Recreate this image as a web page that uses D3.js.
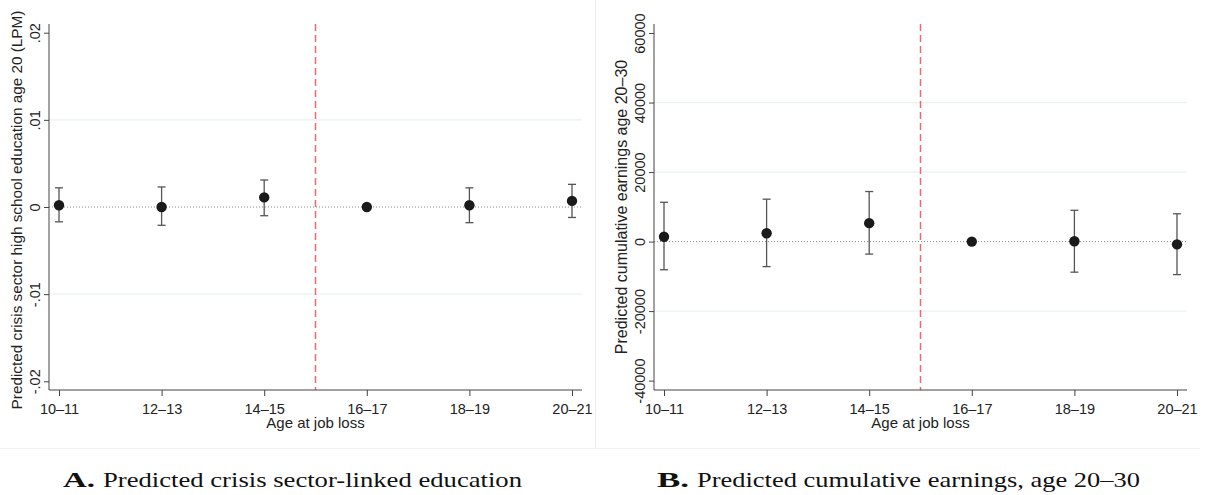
<!DOCTYPE html>
<html>
<head>
<meta charset="utf-8">
<script src="https://cdn.jsdelivr.net/npm/d3@7"></script>
<style>
  html, body { margin: 0; padding: 0; background: #fff; }
  svg { display: block; }
  .lbl { font-family: "Liberation Sans", Arial, sans-serif; fill: #222; }
  .cap { font-family: "Liberation Serif", "Times New Roman", serif; fill: #111; }
</style>
</head>
<body>
<svg id="chart" width="1207" height="495"></svg>
<script>
// ---------- data ----------
const categories = ["10–11", "12–13", "14–15", "16–17", "18–19", "20–21"];

const eduEst = [0.0002, 0.0000, 0.0011, 0.0000, 0.0002, 0.0007];
const eduLo  = [-0.0017, -0.0021, -0.0010, null, -0.0018, -0.0012];
const eduHi  = [0.0022, 0.0023, 0.0031, null, 0.0022, 0.0026];
const eduTicks = [-0.02, -0.01, 0, 0.01, 0.02];
const eduTickLabels = ["-.02", "-.01", "0", ".01", ".02"];
const eduGrid = [-0.01, 0.01];

const earnEst = [1400, 2400, 5300, 0, 100, -800];
const earnLo  = [-8100, -7200, -3600, null, -8800, -9500];
const earnHi  = [11300, 12200, 14400, null, 9000, 8000];
const earnTicks = [-40000, -20000, 0, 20000, 40000, 60000];
const earnTickLabels = ["-40000", "-20000", "0", "20000", "40000", "60000"];
const earnGrid = [-20000, 20000, 40000];

const xTitle = "Age at job loss";
const cutoffBetween = ["14–15", "16–17"];

const panels = [
  {
    est: eduEst, lo: eduLo, hi: eduHi,
    ticks: eduTicks, tickLabels: eduTickLabels, grid: eduGrid,
    domain: [-0.021, 0.021],
    yTitle: "Predicted crisis sector high school education age 20 (LPM)",
    yTitleSize: 15.3, yTitleCY: 210,
    capLetter: "A.", capText: "Predicted crisis sector-linked education",
    x0: 49, x1: 582, yTitleX: 22, capX: 63, capTextX: 103, capTextW: 419
  },
  {
    est: earnEst, lo: earnLo, hi: earnHi,
    ticks: earnTicks, tickLabels: earnTickLabels, grid: earnGrid,
    domain: [-42700, 62600],
    yTitle: "Predicted cumulative earnings age 20–30",
    yTitleSize: 16, yTitleCY: 207,
    capLetter: "B.", capText: "Predicted cumulative earnings, age 20–30",
    x0: 654, x1: 1187, yTitleX: 627, capX: 657, capTextX: 697, capTextW: 443
  }
];

const svg = d3.select("#chart");
const yTop = 24, yBot = 390;

// faint panel frames
svg.append("line").attr("x1", 595.5).attr("x2", 595.5).attr("y1", 0).attr("y2", 448)
  .attr("stroke", "#ececec").attr("stroke-width", 1);
svg.append("line").attr("x1", 0).attr("x2", 1200).attr("y1", 448.5).attr("y2", 448.5)
  .attr("stroke", "#f0f0f0").attr("stroke-width", 1);

panels.forEach(p => {
  const g = svg.append("g");
  const x = d3.scalePoint().domain(categories).range([p.x0, p.x1]).padding(0.0975);
  const y = d3.scaleLinear().domain(p.domain).range([yBot, yTop]);

  // gridlines
  g.selectAll(".grid").data(p.grid).join("line")
    .attr("x1", p.x0).attr("x2", p.x1)
    .attr("y1", d => y(d)).attr("y2", d => y(d))
    .attr("stroke", "#eaf1f2").attr("stroke-width", 1.2);

  // zero dotted line
  g.append("line")
    .attr("x1", p.x0).attr("x2", p.x1)
    .attr("y1", y(0)).attr("y2", y(0))
    .attr("stroke", "#8a8a8a").attr("stroke-width", 1)
    .attr("stroke-dasharray", "1,2");

  // cutoff red dashed line
  const xc = (x(cutoffBetween[0]) + x(cutoffBetween[1])) / 2;
  g.append("line")
    .attr("x1", xc).attr("x2", xc).attr("y1", yTop).attr("y2", yBot)
    .attr("stroke", "#f2676b").attr("stroke-width", 1.5)
    .attr("stroke-dasharray", "7,4");

  // y axis
  const yAxis = d3.axisLeft(y).tickValues(p.ticks)
    .tickFormat((d, i) => p.tickLabels[i]).tickSize(5).tickSizeOuter(0);
  const ya = g.append("g").attr("transform", `translate(${p.x0},0)`).call(yAxis);
  ya.select(".domain").attr("stroke", "#444").attr("d", `M0,${yTop}V${yBot}`);
  ya.selectAll(".tick line").attr("stroke", "#444");
  ya.selectAll(".tick text")
    .attr("class", "lbl")
    .attr("x", null).attr("dy", null)
    .attr("transform", "translate(-9,0) rotate(-90)")
    .attr("text-anchor", "middle")
    .attr("font-size", 14.5)
    .style("font-family", "'Liberation Sans', Arial, sans-serif")
    .attr("fill", "#222");

  // x axis
  const xAxis = d3.axisBottom(x).tickSize(6).tickSizeOuter(0);
  const xa = g.append("g").attr("transform", `translate(0,${yBot})`).call(xAxis);
  xa.select(".domain").attr("stroke", "#444").attr("d", `M${p.x0},0H${p.x1}`);
  xa.selectAll(".tick line").attr("stroke", "#444");
  xa.selectAll(".tick text")
    .attr("y", 24).attr("dy", null)
    .attr("font-size", 14.5)
    .style("font-family", "'Liberation Sans', Arial, sans-serif")
    .attr("fill", "#222");

  // x title
  g.append("text").attr("class", "lbl")
    .attr("x", (p.x0 + p.x1) / 2).attr("y", 428)
    .attr("text-anchor", "middle").attr("font-size", 15)
    .text(xTitle);

  // y title
  g.append("text").attr("class", "lbl")
    .attr("transform", `translate(${p.yTitleX},${p.yTitleCY}) rotate(-90)`)
    .attr("text-anchor", "middle").attr("font-size", p.yTitleSize)
    .text(p.yTitle);

  // error bars
  const idx = d3.range(categories.length).filter(i => p.lo[i] !== null);
  g.selectAll(".ci").data(idx).join("line")
    .attr("x1", i => x(categories[i])).attr("x2", i => x(categories[i]))
    .attr("y1", i => y(p.lo[i])).attr("y2", i => y(p.hi[i]))
    .attr("stroke", "#555").attr("stroke-width", 1.3);
  ["lo", "hi"].forEach(k => {
    g.selectAll(".cap" + k).data(idx).join("line")
      .attr("x1", i => x(categories[i]) - 4).attr("x2", i => x(categories[i]) + 4)
      .attr("y1", i => y(p[k][i])).attr("y2", i => y(p[k][i]))
      .attr("stroke", "#555").attr("stroke-width", 1.3);
  });

  // points
  g.selectAll(".pt").data(p.est).join("circle")
    .attr("cx", (d, i) => x(categories[i])).attr("cy", d => y(d))
    .attr("r", 5.2).attr("fill", "#1a1a1a");

  // caption
  svg.append("text").attr("class", "cap")
    .attr("x", p.capX).attr("y", 487).attr("font-size", 22)
    .attr("font-weight", "bold")
    .attr("textLength", p.capTextX - p.capX - 8).attr("lengthAdjust", "spacingAndGlyphs")
    .text(p.capLetter);
  svg.append("text").attr("class", "cap")
    .attr("x", p.capTextX).attr("y", 487).attr("font-size", 22)
    .attr("textLength", p.capTextW).attr("lengthAdjust", "spacingAndGlyphs")
    .text(p.capText);
});
</script>
</body>
</html>
